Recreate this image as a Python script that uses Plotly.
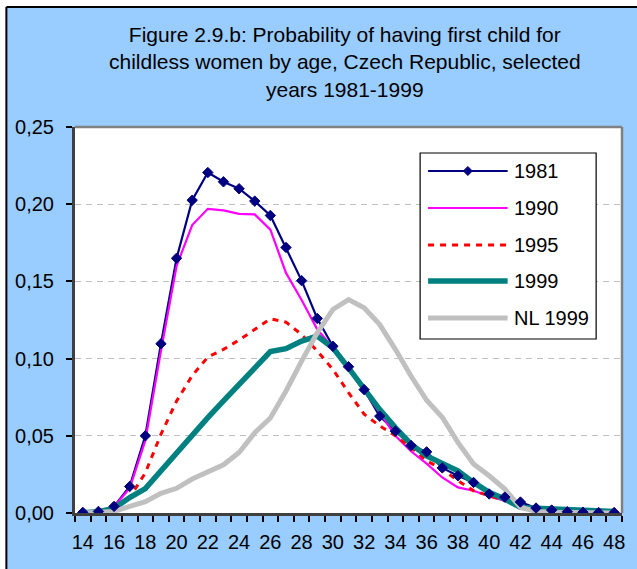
import plotly.graph_objects as go

ages = list(range(14, 49))
y1981 = [0.0004, 0.001, 0.0043, 0.0172, 0.050, 0.1096, 0.165, 0.2026, 0.2205, 0.2145,
         0.210, 0.202, 0.1927, 0.172, 0.1505, 0.126, 0.108, 0.0947, 0.0799, 0.0627,
         0.053, 0.0437, 0.0396, 0.0292, 0.0241, 0.0198, 0.0123, 0.0103, 0.0071, 0.0032,
         0.0019, 0.0008, 0.0005, 0.0003, 0.0003]
y1990 = [0.0003, 0.001, 0.004, 0.016, 0.047, 0.105, 0.160, 0.1865, 0.197, 0.196,
         0.1937, 0.1934, 0.1835, 0.1555, 0.138, 0.119, 0.107, 0.094, 0.079, 0.065,
         0.050, 0.040, 0.032, 0.023, 0.0166, 0.0144, 0.0108, 0.0078, 0.005, 0.003,
         0.002, 0.001, 0.0006, 0.0004, 0.0003]
y1995 = [0.0002, 0.0008, 0.003, 0.010, 0.026, 0.051, 0.0725, 0.089, 0.101, 0.106,
         0.112, 0.119, 0.1258, 0.1236, 0.1156, 0.105, 0.093, 0.078, 0.064, 0.0564,
         0.050, 0.0424, 0.0338, 0.0284, 0.0209, 0.0144, 0.011, 0.008, 0.005, 0.003,
         0.002, 0.001, 0.0006, 0.0004, 0.0003]
y1999 = [0.0002, 0.0008, 0.003, 0.010, 0.0158, 0.0274, 0.0395, 0.051, 0.0618, 0.0726,
         0.0833, 0.094, 0.1045, 0.1064, 0.1113, 0.1146, 0.107, 0.094, 0.080, 0.067,
         0.0553, 0.0446, 0.037, 0.032, 0.0273, 0.0198, 0.0134, 0.009, 0.0037, 0.003,
         0.0025, 0.002, 0.0015, 0.001, 0.001]
yNL1999 = [0.0, 0.0003, 0.001, 0.0043, 0.0073, 0.0127, 0.016, 0.022, 0.0267, 0.0312,
           0.0392, 0.052, 0.0615, 0.079, 0.0984, 0.1167, 0.1318, 0.1382, 0.1329, 0.122,
           0.106, 0.0887, 0.073, 0.062, 0.0457, 0.0317, 0.0241, 0.0155, 0.0037, 0.001,
           0.0005, 0.0003, 0.0002, 0.0001, 0.0]

series_names = ["1981", "1990", "1995", "1999", "NL 1999"]
series_vals = [y1981, y1990, y1995, y1999, yNL1999]
series_style = [
    dict(color="#000080", width=2.2, dash="solid"),
    dict(color="#FF00FF", width=2.2, dash="solid"),
    dict(color="#FF0000", width=3, dash="6px,6px"),
    dict(color="#008080", width=5.5, dash="solid"),
    dict(color="#C0C0C0", width=5, dash="solid"),
]
x_ticks = list(range(14, 49, 2))
y_ticks = [0, 0.05, 0.10, 0.15, 0.20, 0.25]

FONT = "Liberation Sans, Arial, sans-serif"
W, H = 637, 569
L, R, T, B = 75, 12, 127, 56
PW, PH = W - L - R, H - T - B

def xp(px):
    return (px - L) / PW

def yp(py):
    return (H - B - py) / PH

fig = go.Figure()
for name, vals, st in zip(series_names, series_vals, series_style):
    fig.add_trace(go.Scatter(x=ages, y=vals, mode="lines", name=name,
                             line=dict(color=st["color"], width=st["width"], dash=st["dash"]),
                             showlegend=False, hoverinfo="skip"))
fig.add_trace(go.Scatter(x=ages, y=y1981, mode="markers", showlegend=False,
                         marker=dict(symbol="diamond", size=8, color="#000080",
                                     line=dict(color="#000080", width=1))))

shapes = []
# outer frame (white margin strips + black edge lines)
shapes.append(dict(type="rect", xref="paper", yref="paper", x0=xp(-5), x1=xp(6), y0=yp(H + 5), y1=yp(-5),
                   fillcolor="white", line=dict(width=0), layer="above"))
shapes.append(dict(type="rect", xref="paper", yref="paper", x0=xp(-5), x1=xp(W + 5), y0=yp(7), y1=yp(-5),
                   fillcolor="white", line=dict(width=0), layer="above"))
shapes.append(dict(type="line", xref="paper", yref="paper", x0=xp(6), x1=xp(6), y0=yp(H + 5), y1=yp(7),
                   line=dict(color="black", width=2)))
shapes.append(dict(type="line", xref="paper", yref="paper", x0=xp(6), x1=xp(W + 5), y0=yp(7), y1=yp(7),
                   line=dict(color="black", width=2)))
# plot area top and right border
shapes.append(dict(type="line", xref="paper", yref="paper", x0=0, x1=1, y0=1, y1=1,
                   line=dict(color="#808080", width=2.5)))
shapes.append(dict(type="line", xref="paper", yref="paper", x0=1, x1=1, y0=0, y1=1,
                   line=dict(color="#808080", width=2.5)))

# legend box
lx0, lx1, ly0, ly1 = 422, 599, 153, 339
shapes.append(dict(type="rect", xref="paper", yref="paper", x0=xp(lx0), x1=xp(lx1), y0=yp(ly1), y1=yp(ly0),
                   fillcolor="white", line=dict(color="black", width=1.2)))
annotations = []
leg_y = [171, 208, 245, 281, 318]
for name, st, py in zip(series_names, series_style, leg_y):
    shapes.append(dict(type="line", xref="paper", yref="paper", x0=xp(430), x1=xp(510), y0=yp(py), y1=yp(py),
                       line=dict(color=st["color"], width=st["width"], dash=st["dash"])))
    annotations.append(dict(xref="paper", yref="paper", x=xp(514), y=yp(py), text=name, showarrow=False,
                            xanchor="left", yanchor="middle", font=dict(family=FONT, size=20, color="black")))
# diamond marker on 1981 legend line
cx, cy, d = 470, leg_y[0], 4.5
shapes.append(dict(type="path", xref="paper", yref="paper",
                   path=f"M {xp(cx)},{yp(cy - d)} L {xp(cx + d)},{yp(cy)} L {xp(cx)},{yp(cy + d)} L {xp(cx - d)},{yp(cy)} Z",
                   fillcolor="#000080", line=dict(color="#000080", width=1)))

annotations.append(dict(xref="paper", yref="paper", x=xp(346), y=yp(62),
                        text="Figure 2.9.b: Probability of having first child for<br>childless women by age, Czech Republic, selected<br>years 1981-1999",
                        showarrow=False, xanchor="center", yanchor="middle", align="center",
                        font=dict(family=FONT, size=21, color="black")))

fig.update_layout(
    width=W, height=H,
    margin=dict(l=L, r=R, t=T, b=B, pad=0),
    paper_bgcolor="#99CCFF", plot_bgcolor="white",
    separators=", ",
    showlegend=False,
    shapes=shapes, annotations=annotations,
    xaxis=dict(range=[13.5, 48.5], tickvals=x_ticks, ticktext=[str(v) for v in x_ticks],
               ticks="", showgrid=False, zeroline=False,
               showline=True, linecolor="#404040", linewidth=3,
               tickfont=dict(family=FONT, size=20, color="black"), ticklabelstandoff=9,
               minor=dict(tick0=13.5, dtick=1, ticks="outside", ticklen=6, tickwidth=1.5,
                          tickcolor="black", showgrid=False)),
    yaxis=dict(range=[0, 0.25], tickvals=y_ticks, tickformat=".2f",
               ticks="outside", ticklen=6, tickwidth=1.5, tickcolor="black",
               showgrid=True, gridcolor="#C0C0C0", gridwidth=1, griddash="6px,5px",
               zeroline=False, showline=True, linecolor="#404040", linewidth=3,
               tickfont=dict(family=FONT, size=20, color="black"), ticklabelstandoff=8),
)
fig.write_html("out.html")
